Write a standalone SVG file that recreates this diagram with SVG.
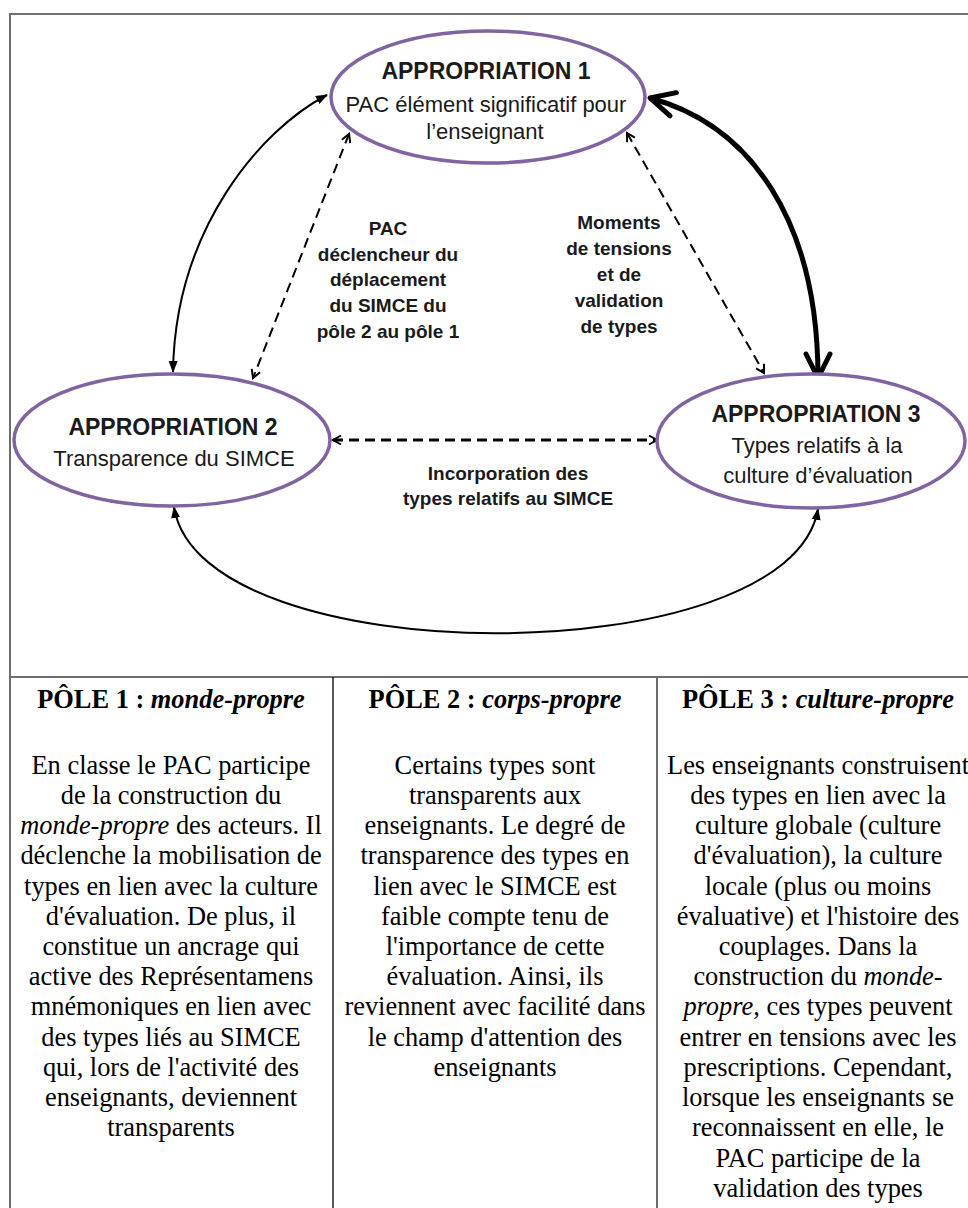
<svg xmlns="http://www.w3.org/2000/svg" width="968" height="1208" viewBox="0 0 968 1208">
<style>
.ell{fill:#fff;stroke:#8064a2;stroke-width:3.5}
.t{font-family:"Liberation Sans",Arial,sans-serif;fill:#1a1a1a;text-anchor:middle}
.tb{font-weight:bold;font-size:23px}
.tr{font-size:22px}
.lb{font-weight:bold;font-size:19px}
.s{font-family:"Liberation Serif","Times New Roman",serif;font-size:26.4px;fill:#000;text-anchor:middle}
.h{font-weight:bold}
.conn{fill:none;stroke:#000}
.dash{stroke-dasharray:10 6}
.grid{stroke:#6e6e6e;stroke-width:2;fill:none}
</style>
<defs>
<marker id="tri" viewBox="0 0 12 10" refX="11" refY="5" markerWidth="12" markerHeight="10" markerUnits="userSpaceOnUse" orient="auto-start-reverse">
<path d="M0,0.5 L12,5 L0,9.5 z" fill="#000"/>
</marker>
<marker id="chev" viewBox="-2 -2 14 14" refX="9" refY="5" markerWidth="14" markerHeight="14" markerUnits="userSpaceOnUse" orient="auto-start-reverse">
<path d="M1,0.5 L9,5 L1,9.5" fill="none" stroke="#000" stroke-width="2"/>
</marker>
<marker id="big" viewBox="-6 -18 38 36" refX="28" refY="0" markerWidth="38" markerHeight="36" markerUnits="userSpaceOnUse" orient="auto-start-reverse">
<path d="M4,-12 L28,0 L4,12" fill="none" stroke="#000" stroke-width="5" stroke-linecap="round" stroke-linejoin="round"/>
</marker>
</defs>
<rect width="968" height="1208" fill="#fff"/>
<g id="frame">
<path class="grid" d="M10,1210 V14 H970"/>
<path class="grid" d="M10,677 H970"/>
<path d="M333,677 V1210" stroke="#222" stroke-width="1.5"/>
<path class="grid" d="M657,677 V1210"/>
</g>
<g id="connectors">
<path class="conn" stroke-width="2" d="M327,95 C260,130 175,230 173,372" marker-start="url(#tri)" marker-end="url(#tri)"/>
<path class="conn" stroke-width="5" d="M650,98 C750,125 818,220 818,378" marker-start="url(#big)" marker-end="url(#big)"/>
<path class="conn dash" stroke-width="2" d="M349,134 L253,378" marker-start="url(#chev)" marker-end="url(#chev)"/>
<path class="conn dash" stroke-width="2" d="M627,133 L764,373" marker-start="url(#chev)" marker-end="url(#chev)"/>
<path class="conn dash" stroke-width="3" d="M333,440 L657,440" marker-start="url(#chev)" marker-end="url(#chev)"/>
<path class="conn" stroke-width="2" d="M174,507 C200,675 790,675 818,509" marker-start="url(#tri)" marker-end="url(#tri)"/>
</g>
<g id="label-pac">
<text class="t lb" x="388" y="235">PAC</text>
<text class="t lb" x="388" y="261">déclencheur du</text>
<text class="t lb" x="388" y="286">déplacement</text>
<text class="t lb" x="388" y="312">du SIMCE du</text>
<text class="t lb" x="388" y="338">pôle 2 au pôle 1</text>
</g>
<g id="label-moments">
<text class="t lb" x="619" y="229">Moments</text>
<text class="t lb" x="619" y="255">de tensions</text>
<text class="t lb" x="619" y="281">et de</text>
<text class="t lb" x="619" y="307">validation</text>
<text class="t lb" x="619" y="333">de types</text>
</g>
<g id="label-incorporation">
<text class="t lb" x="508" y="480">Incorporation des</text>
<text class="t lb" x="508" y="505">types relatifs au SIMCE</text>
</g>
<g id="appropriation1">
<ellipse class="ell" cx="488" cy="97" rx="157" ry="66"/>
<text class="t tb" x="486" y="79">APPROPRIATION 1</text>
<text class="t tr" x="486" y="112">PAC élément significatif pour</text>
<text class="t tr" x="485" y="139">l’enseignant</text>
</g>
<g id="appropriation2">
<ellipse class="ell" cx="172" cy="440" rx="158" ry="66"/>
<text class="t tb" x="173" y="435">APPROPRIATION 2</text>
<text class="t tr" x="174" y="466">Transparence du SIMCE</text>
</g>
<g id="appropriation3">
<ellipse class="ell" cx="811" cy="441" rx="154" ry="67"/>
<text class="t tb" x="816" y="422">APPROPRIATION 3</text>
<text class="t tr" x="817" y="453">Types relatifs à la</text>
<text class="t tr" x="818" y="483">culture d’évaluation</text>
</g>
<g id="pole1">
<text class="s h" x="171" y="708">PÔLE 1 : <tspan font-style="italic">monde-propre</tspan></text>
<text class="s" x="171" y="774">En classe le PAC participe</text>
<text class="s" x="171" y="804">de la construction du</text>
<text class="s" x="171" y="834"><tspan font-style="italic">monde-propre</tspan> des acteurs. Il</text>
<text class="s" x="171" y="864">déclenche la mobilisation de</text>
<text class="s" x="171" y="895">types en lien avec la culture</text>
<text class="s" x="171" y="925">d'évaluation. De plus, il</text>
<text class="s" x="171" y="955">constitue un ancrage qui</text>
<text class="s" x="171" y="985">active des Représentamens</text>
<text class="s" x="171" y="1015">mnémoniques en lien avec</text>
<text class="s" x="171" y="1046">des types liés au SIMCE</text>
<text class="s" x="171" y="1076">qui, lors de l'activité des</text>
<text class="s" x="171" y="1106">enseignants, deviennent</text>
<text class="s" x="171" y="1136">transparents</text>
</g>
<g id="pole2">
<text class="s h" x="495" y="708">PÔLE 2 : <tspan font-style="italic">corps-propre</tspan></text>
<text class="s" x="495" y="774">Certains types sont</text>
<text class="s" x="495" y="804">transparents aux</text>
<text class="s" x="495" y="834">enseignants. Le degré de</text>
<text class="s" x="495" y="864">transparence des types en</text>
<text class="s" x="495" y="895">lien avec le SIMCE est</text>
<text class="s" x="495" y="925">faible compte tenu de</text>
<text class="s" x="495" y="955">l'importance de cette</text>
<text class="s" x="495" y="985">évaluation. Ainsi, ils</text>
<text class="s" x="495" y="1015">reviennent avec facilité dans</text>
<text class="s" x="495" y="1046">le champ d'attention des</text>
<text class="s" x="495" y="1076">enseignants</text>
</g>
<g id="pole3">
<text class="s h" x="818" y="708">PÔLE 3 : <tspan font-style="italic">culture-propre</tspan></text>
<text class="s" x="818" y="774">Les enseignants construisent</text>
<text class="s" x="818" y="804">des types en lien avec la</text>
<text class="s" x="818" y="834">culture globale (culture</text>
<text class="s" x="818" y="864">d'évaluation), la culture</text>
<text class="s" x="818" y="895">locale (plus ou moins</text>
<text class="s" x="818" y="925">évaluative) et l'histoire des</text>
<text class="s" x="818" y="955">couplages. Dans la</text>
<text class="s" x="818" y="985">construction du <tspan font-style="italic">monde-</tspan></text>
<text class="s" x="818" y="1015"><tspan font-style="italic">propre</tspan>, ces types peuvent</text>
<text class="s" x="818" y="1046">entrer en tensions avec les</text>
<text class="s" x="818" y="1076">prescriptions. Cependant,</text>
<text class="s" x="818" y="1106">lorsque les enseignants se</text>
<text class="s" x="818" y="1136">reconnaissent en elle, le</text>
<text class="s" x="818" y="1167">PAC participe de la</text>
<text class="s" x="818" y="1197">validation des types</text>
</g>
</svg>
